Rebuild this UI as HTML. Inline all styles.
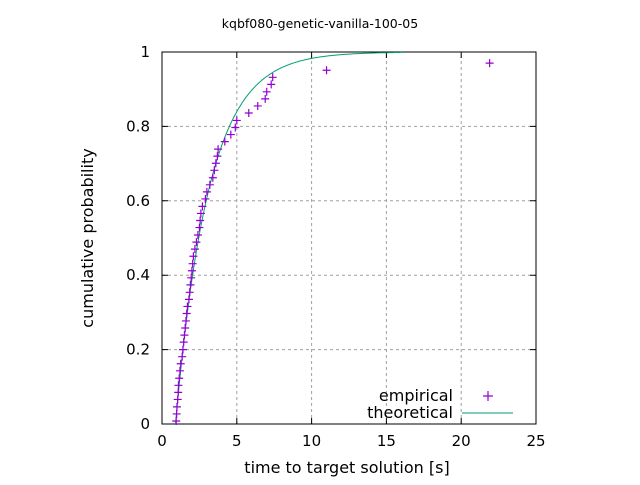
<!DOCTYPE html>
<html><head><meta charset="utf-8"><style>
body{margin:0;background:#fff}
svg text{font-family:"DejaVu Sans","Liberation Sans",sans-serif;font-size:15px;fill:#000}
svg text.big{font-size:16px}
</style></head><body>
<svg id="c" width="640" height="480" xmlns="http://www.w3.org/2000/svg">
<text x="320" y="28" text-anchor="middle" style="font-size:12.5px">kqbf080-genetic-vanilla-100-05</text>
<g id="grid"></g><g id="axes"></g><g id="marks"></g>
<text class="big" x="347" y="473" text-anchor="middle">time to target solution [s]</text>
<text class="big" transform="translate(93,238) rotate(-90)" text-anchor="middle">cumulative probability</text>
<g>
<text class="big" x="453" y="401" text-anchor="end">empirical</text>
<path d="M483,396h10M488,391v10" stroke="#9400d3" stroke-width="1.2"/>
<text class="big" x="453" y="418" text-anchor="end">theoretical</text>
<line x1="462" y1="413" x2="513" y2="413" stroke="#009e73" stroke-width="1"/>
</g>
</svg>
<script>
const times=[0.95,0.98,1.0,1.05,1.08,1.1,1.15,1.2,1.25,1.35,1.4,1.45,1.5,1.55,1.6,1.65,1.7,1.8,1.85,1.9,1.95,2.0,2.05,2.1,2.2,2.3,2.4,2.5,2.55,2.6,2.7,2.9,3.0,3.2,3.4,3.5,3.6,3.7,3.75,4.2,4.6,4.9,5.0,5.8,6.4,6.9,7.0,7.3,7.4,11.0,21.9];
const probs=[0.008,0.027,0.046,0.066,0.085,0.104,0.123,0.143,0.162,0.181,0.200,0.220,0.239,0.258,0.277,0.297,0.316,0.335,0.354,0.374,0.393,0.412,0.431,0.451,0.470,0.489,0.508,0.528,0.547,0.566,0.585,0.605,0.624,0.643,0.662,0.682,0.701,0.720,0.739,0.759,0.778,0.797,0.816,0.836,0.855,0.874,0.893,0.913,0.932,0.951,0.970];
const xTicks=[0,5,10,15,20,25];
const yTicks=[0,0.2,0.4,0.6,0.8,1];
const yTickLabels=["0","0.2","0.4","0.6","0.8","1"];
const theoShift=0.9, theoScale=2.24;
const X0=162,X1=536,Y0=424,Y1=52;
const sx=v=>X0+(v-0)/25*(X1-X0);
const sy=v=>Y0-v*(Y0-Y1);
const NS="http://www.w3.org/2000/svg";
function mk(p,tag,attrs){const e=document.createElementNS(NS,tag);for(const k in attrs)e.setAttribute(k,attrs[k]);p.appendChild(e);return e;}
const grid=document.getElementById('grid'),axes=document.getElementById('axes'),marks=document.getElementById('marks');
xTicks.forEach(t=>{const x=sx(t);
 if(t>0&&t<25){const g=mk(grid,'line',{x1:x,y1:Y0,x2:x,y2:Y1,stroke:'#a0a0a0','stroke-dasharray':'3,3'});
 
 }
 const tk=mk(axes,'path',{d:`M${x},${Y0}v-6M${x},${Y1}v6`,stroke:'#000'});
 
 
 const tx=mk(axes,'text',{x:x,y:Y0+22,'text-anchor':'middle'});tx.textContent=t;
 
 
});
yTicks.forEach((t,i)=>{const y=sy(t);
 if(t>0&&t<1){const g=mk(grid,'line',{x1:X0,y1:y,x2:X1,y2:y,stroke:'#a0a0a0','stroke-dasharray':'3,3'});
 
 }
 const tk=mk(axes,'path',{d:`M${X0},${y}h6M${X1},${y}h-6`,stroke:'#000'});
 
 
 const tx=mk(axes,'text',{x:X0-12,y:y+5,'text-anchor':'end'});tx.textContent=yTickLabels[i];
 
 
});
const fr=mk(axes,'rect',{x:X0,y:Y1,width:X1-X0,height:Y0-Y1,fill:'none',stroke:'#000'});


let d='';for(let t=theoShift;t<=16.2;t+=0.05){const p=1-Math.exp(-(t-theoShift)/theoScale);d+=(d?'L':'M')+sx(t).toFixed(1)+','+sy(p).toFixed(1);}
const ln=mk(marks,'path',{d:d,fill:'none',stroke:'#009e73','stroke-width':1});


times.forEach((t,i)=>{const x=sx(t),y=sy(probs[i]);
 const m=mk(marks,'path',{d:`M${x-4},${y}h8M${x},${y-4}v8`,stroke:'#9400d3','stroke-width':1.2});
 
 
});
</script>
</body></html>
